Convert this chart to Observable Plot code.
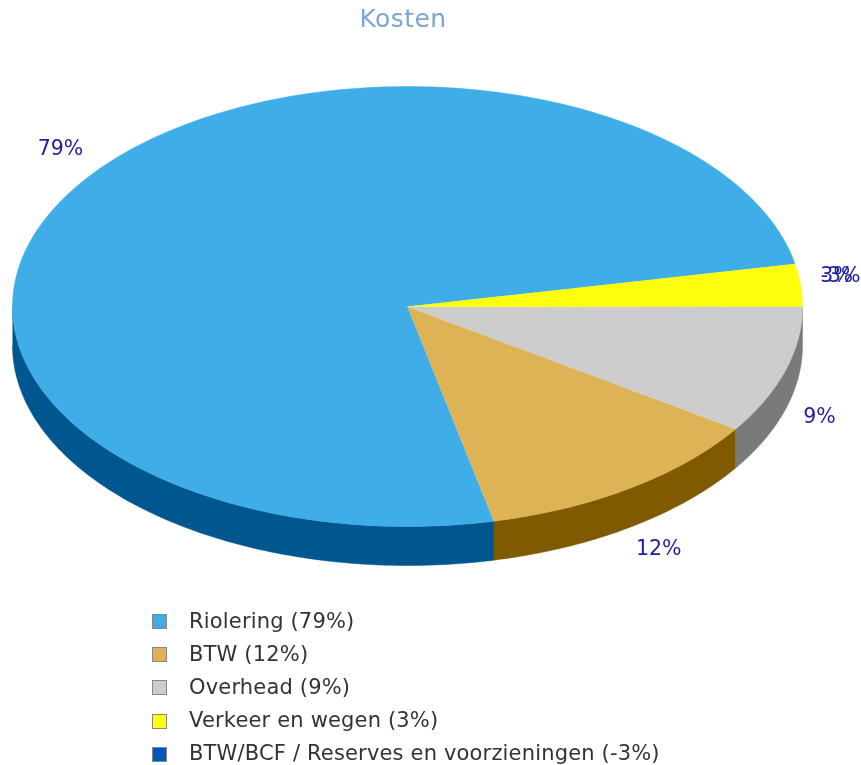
<!DOCTYPE html>
<html>
<head>
<meta charset="utf-8">
<script src="https://cdn.jsdelivr.net/npm/d3@7"></script>
<script src="https://cdn.jsdelivr.net/npm/@observablehq/plot@0.6"></script>
<style>
html,body{margin:0;padding:0;background:#fff;overflow:hidden}
body{width:861px;height:765px;font-family:"DejaVu Sans",sans-serif}
#title{height:40px;line-height:38px;width:806px;text-align:center;font-size:25px;letter-spacing:.45px;color:#79a6d8;filter:blur(.6px)}
#chart{height:560px}
#chart svg{display:block;filter:blur(.45px)}
#legend{padding:4px 0 0 152px;filter:blur(.5px)}
.row{height:33.2px;display:flex;align-items:center;font-size:21px;letter-spacing:.17px;color:#333}
.sw{width:13px;height:13px;border:1.5px solid #888;margin-right:22px;flex:none;position:relative;top:1px}
</style>
</head>
<body>
<div id="title"></div>
<div id="chart"></div>
<div id="legend"></div>
<script>
const chartTitle = "Kosten";
const categories = ["Riolering", "BTW", "Overhead", "Verkeer en wegen", "BTW/BCF / Reserves en voorzieningen"];
const percentLabels = [79, 12, 9, 3, -3];
// Share of the circle each slice occupies (percent).
const shares = [75.4, 12.1, 9.4, 3.1, 0];
const topColors = ["#3FAEE8", "#DDB355", "#CCCCCC", "#FFFF0C", "#0059B8"];
const sideColors = ["#00568F", "#7F5A00", "#7A7A7A", "#8F8F00", "#003C80"];

// Pie geometry, in the units of the x and y scales.
const rx = 395, ry = 220, depth = 39;
const step = Math.PI / 180;
const startAngle = 11.2 * step; // Riolering starts here and runs anticlockwise

let acc = 0;
const slices = categories.map((name, i) => {
  const a0 = startAngle + acc / 100 * 2 * Math.PI;
  acc += shares[i];
  return {name, label: percentLabels[i], a0, a1: startAngle + acc / 100 * 2 * Math.PI, top: topColors[i], side: sideColors[i]};
});
const rim = (a, drop = 0) => ({x: rx * Math.cos(a), y: -ry * Math.sin(a) + drop});
const arc = (a0, a1, drop = 0) => {
  const n = Math.max(1, Math.ceil(Math.abs(a1 - a0) / step));
  return d3.range(n + 1).map(k => rim(a0 + (a1 - a0) * k / n, drop));
};

const wedges = slices.filter(s => s.a1 > s.a0).flatMap(s =>
  [{x: 0, y: 0}, ...arc(s.a0, s.a1)].map(p => ({...p, key: s.name, color: s.top})));

// Only the part of a slice's rim that faces the viewer (angles PI..2PI) has a wall.
const walls = slices.flatMap(s => {
  const lo = Math.max(s.a0, Math.PI), hi = Math.min(s.a1, 2 * Math.PI);
  if (hi <= lo) return [];
  return [...arc(lo, hi), ...arc(hi, lo, depth)].map(p => ({...p, key: s.name, color: s.side}));
});

const labelOffsets = {"79%": [-16, -38], "12%": [28, 60], "9%": [34, 46], "3%": [36, -10], "-3%": [40, -10]};
const labelMarks = slices.map(s => {
  const text = s.label + "%";
  const anchorPoint = s.a1 > s.a0 ? (s.a0 + s.a1) / 2 : slices[3].a0 / 2 + slices[3].a1 / 2;
  const [dx, dy] = labelOffsets[text];
  return Plot.text([rim(anchorPoint)], {
    x: "x", y: "y", text: () => text, dx, dy,
    fill: "#1F1F9C", fontSize: 20.5, fontFamily: "DejaVu Sans"
  });
});

document.getElementById("title").textContent = chartTitle;

const chart = Plot.plot({
  width: 861, height: 560,
  margin: 0,
  style: {background: "transparent"},
  x: {domain: [-407, 454], range: [0, 861], axis: null},
  y: {domain: [-266, 294], range: [0, 560], axis: null},
  color: {type: "identity"},
  marks: [
    Plot.line(walls, {x: "x", y: "y", z: "key", fill: "color", stroke: "color", strokeWidth: 0.5, curve: "linear"}),
    Plot.line(wedges, {x: "x", y: "y", z: "key", fill: "color", stroke: "color", strokeWidth: 0.5, curve: "linear"}),
    ...labelMarks
  ]
});
document.getElementById("chart").append(chart);

const legend = document.getElementById("legend");
slices.forEach(s => {
  const row = document.createElement("div");
  row.className = "row";
  const sw = document.createElement("span");
  sw.className = "sw";
  sw.style.background = s.top;
  const t = document.createElement("span");
  t.textContent = `${s.name} (${s.label}%)`;
  row.append(sw, t);
  legend.append(row);
});
</script>
</body>
</html>
